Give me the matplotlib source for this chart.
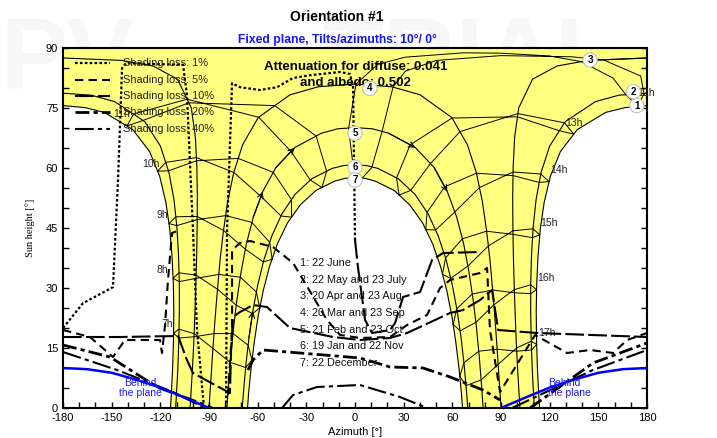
import matplotlib
matplotlib.use("Agg")
import matplotlib.pyplot as plt
from matplotlib.ticker import MultipleLocator

plt.rcParams['font.family'] = ['Liberation Sans', 'DejaVu Sans']
plt.rcParams['axes.unicode_minus'] = False

# --- sun paths, afternoon half (azimuth from south, west positive), morning is the mirror
C1_AZ = [180, 166.5, 154.5, 137.0, 126.6, 120.4, 116.6, 114.2, 112.8, 112.0, 111.7, 111.9, 112.4, 113.2, 113.75]
C1_ALT = [75.6, 75.1, 73.9, 69.6, 64.1, 57.9, 51.4, 44.7, 37.9, 31.0, 24.1, 17.3, 10.4, 3.6, 0]
C2_AZ = [180, 162.6, 148.2, 129.6, 120.0, 114.7, 111.6, 109.8, 108.8, 108.3, 108.3, 108.6, 109.2, 110.1, 110.6]
C2_ALT = [78.7, 78.2, 76.6, 71.6, 65.5, 58.9, 52.1, 45.2, 38.2, 31.2, 24.1, 17.1, 10.1, 3.1, 0]
C3_AZ = [180, 143.8, 124.5, 109.4, 100.9, 98.4, 97.5, 97.2, 97.3, 97.6, 98.1, 98.7, 99.4, 100.3, 101.4, 101.65]
C3_ALT = [87.5, 86.9, 85.5, 82.2, 75.0, 67.7, 60.4, 53.0, 45.7, 38.3, 31.0, 23.7, 16.4, 9.1, 1.8, 0]
C4_AZ = [0, 22.7, 40.1, 59.7, 69.3, 74.8, 78.5, 81.1, 83.2, 84.8, 86.3, 87.6, 88.8, 90]
C4_ALT = [81.0, 80.3, 78.3, 72.6, 65.8, 58.8, 51.6, 44.3, 37.0, 29.6, 22.2, 14.8, 7.4, 0]
C5_AZ = [0, 10.7, 20.7, 37.2, 48.8, 56.9, 62.7, 67.0, 70.2, 72.8, 74.9, 76.6, 78.0, 79.0]
C5_ALT = [70.1, 69.8, 68.7, 65.1, 60.1, 54.1, 47.7, 41.0, 34.1, 27.1, 20.0, 12.8, 5.6, 0]
C6_AZ = [0, 7.2, 14.1, 26.7, 37.0, 45.1, 51.3, 56.2, 60.0, 63.0, 65.4, 67.3, 68.8, 69.5]
C6_ALT = [60.8, 60.6, 59.9, 57.3, 53.4, 48.5, 43.0, 37.0, 30.7, 24.2, 17.5, 10.7, 3.8, 0]
C7_AZ = [0, 6.4, 12.6, 24.1, 33.7, 41.6, 47.8, 52.7, 56.6, 59.7, 62.1, 64.1, 65.6, 66.25]
C7_ALT = [57.6, 57.4, 56.7, 54.4, 50.8, 46.3, 41.1, 35.4, 29.3, 23.0, 16.5, 9.9, 3.7, 0]
DAYS = [(C1_AZ, C1_ALT), (C2_AZ, C2_ALT), (C3_AZ, C3_ALT), (C4_AZ, C4_ALT),
        (C5_AZ, C5_ALT), (C6_AZ, C6_ALT), (C7_AZ, C7_ALT)]

DAY_LABELS = ["1: 22 June", "2: 22 May and 23 July", "3: 20 Apr and 23 Aug",
              "4: 20 Mar and 23 Sep", "5: 21 Feb and 23 Oct", "6: 19 Jan and 22 Nov",
              "7: 22 December"]
NUM_AZ = [173.7, 171.6, 144.9, 9.2, 0, 0, 0]
NUM_ALT = [75.6, 79.1, 87.0, 79.9, 68.7, 60.2, 57.0]

# direction arrows: (day index, node of the tail, node of the head, morning side?)
ARROWS = [(4, 4, 3, True), (4, 6, 5, True), (4, 2, 3, False), (4, 4, 5, False),
          (2, 0, 1, False), (5, 10, 9, True)]

# --- hour lines (analemma loops, legal time), (azimuth, height)
H07 = [(-63.5, 12.0), (-67.4, 10.1), (-76.9, 11.4), (-87.6, 14.9), (-99.2, 18.6), (-108.5, 19.7), (-111.9, 18.7),
       (-108.6, 17.5), (-99.3, 17.8), (-86.9, 18.6), (-75.2, 18.6), (-65.9, 15.7), (-63.5, 12.0)]
H08 = [(-58.7, 25.0), (-63.2, 23.6), (-73.2, 25.7), (-84.8, 29.7), (-97.9, 33.2), (-108.5, 33.8), (-112.2, 32.4),
       (-108.3, 31.6), (-98.0, 32.4), (-84.0, 33.4), (-70.7, 32.7), (-60.8, 29.0), (-58.7, 25.0)]
H09 = [(-51.1, 37.2), (-56.5, 36.5), (-67.6, 39.7), (-81.1, 44.4), (-97.3, 47.9), (-110.5, 47.8), (-114.7, 46.1),
       (-109.9, 45.6), (-97.3, 47.1), (-79.7, 48.1), (-63.6, 46.4), (-52.6, 41.4), (-51.1, 37.2)]
H10 = [(-39.1, 47.7), (-45.6, 48.0), (-58.0, 52.9), (-74.7, 58.9), (-97.8, 62.6), (-116.7, 61.4), (-121.7, 59.2),
       (-115.0, 59.3), (-97.7, 61.8), (-71.9, 62.4), (-50.4, 58.9), (-39.2, 52.1), (-39.1, 47.7)]
H11 = [(-20.4, 55.1), (-27.6, 57.0), (-39.4, 64.1), (-59.4, 72.7), (-103.5, 77.2), (-136.5, 73.5), (-140.6, 70.5),
       (-130.6, 71.9), (-102.5, 76.3), (-49.5, 75.6), (-24.0, 68.0), (-17.5, 59.2), (-20.4, 55.1)]
H12 = [(4.0, 57.3), (-1.2, 60.7), (-4.0, 69.8), (0.6, 81.0), (14, 85.9), (30.8, 87.7), (67, 88.8), (90, 88.7),
       (120, 88.0), (139.4, 86.6), (159.0, 82.5), (167.0, 78.3), (174.4, 75.4),
       (178.1, 78.6), (176.1, 83.0), (153.0, 87.05), (133.7, 87.8), (90, 88.1), (50.1, 86.9), (31.0, 84.2),
       (23.4, 80.2), (16.6, 69.0), (10.3, 60.1), (4.0, 57.3)]
H13 = [(27.2, 53.25), (25.6, 57.5), (34.0, 65.8), (59.8, 72.5), (100.1, 72.8), (126.0, 69.3), (134.8, 68.5),
       (129.1, 71.3), (100.4, 73.6), (64.7, 69.1), (46.5, 61.1), (34.3, 54.4), (27.2, 53.25)]
H14 = [(43.6, 44.6), (44.4, 48.9), (55.3, 55.3), (74.85, 58.7), (97.4, 58.1), (113.5, 56.4), (119.6, 56.6),
       (114.5, 58.5), (97.4, 59.0), (76.7, 55.1), (61.5, 49.0), (49.6, 44.5), (43.6, 44.6)]
H15 = [(53.9, 33.4), (55.8, 37.5), (66.2, 42.3), (81.1, 44.2), (97.4, 43.4), (109.4, 42.6), (113.9, 43.3),
       (109.7, 44.8), (97.4, 44.3), (82.2, 40.5), (69.6, 35.5), (59.0, 32.4), (53.9, 33.4)]
H16 = [(60.5, 20.9), (62.7, 24.8), (72.3, 28.5), (84.8, 29.5), (98.3, 28.8), (108.3, 28.6), (111.9, 29.6),
       (108.3, 30.8), (98.2, 29.6), (85.6, 25.8), (74.5, 21.4), (64.8, 19.3), (60.5, 20.9)]
H17 = [(64.6, 7.9), (67.1, 11.3), (76.3, 14.2), (87.6, 14.7), (99.7, 14.2), (108.8, 14.5), (112.0, 15.9),
       (108.6, 16.7), (99.6, 15.0), (88.2, 10.9), (77.7, 7.0), (68.4, 5.6), (64.6, 7.9)]

HOUR_TXT = ['7h', '8h', '9h', '10h', '11h', '12h', '13h', '14h', '15h', '16h', '17h']
HOUR_TXT_AZ = [-112, -115.3, -115.3, -120.2, -138.7, 174, 129.5, 120.2, 114, 112.2, 112.8]
HOUR_TXT_ALT = [21, 34.5, 48.25, 61, 73.5, 78.8, 71.25, 59.4, 46.25, 32.5, 18.75]

# --- shading loss iso-lines (azimuth, height)
LOSS_1 = [
    ([-180.0, -167.7, -149.2, -146.1, -143.6, -141.2, -106.0, -103.6, -99.9, -97.4, -93.1],
     [20.0, 26.2, 30.2, 57.0, 85.0, 86.2, 85.8, 78.2, 44.5, 19.5, 0]),
    ([-79.5, -78.9, -75.8, -70.9, -58.6, -48.1, -38.2, -27.7, -9.2, -3.1, -1.2, 0],
     [0, 44.5, 81.2, 80.2, 79.5, 80.2, 82.5, 83.2, 84.0, 83.5, 80.2, 42.0]),
]
LOSS_5 = [
    ([-180.0, -163.4, -149.2, -141.8, -120.2, -119.0, -117.1, -115.3, -112.8, -107.9],
     [19.5, 17.75, 12.75, 17.0, 17.0, 13.75, 20.75, 32.0, 43.75, 44.5]),
    ([-78.3, -75.8, -75.8, -70.9, -64.7, -50.6, -38.2, -29.0, -17.3, -9.2, 3.1, 21.6, 32.1, 44.4, 52.4,
      58.6, 77.1, 81.4, 83.2, 89.4, 111.0, 130.7, 144.9, 159.1, 167.7, 180.0],
     [3.25, 19.5, 39.5, 41.25, 41.75, 40.25, 36.25, 30.0, 22.0, 18.25, 17.5, 17.75, 20.75, 23.25, 30.0,
      32.0, 33.75, 35.0, 19.5, 4.0, 18.25, 13.75, 14.5, 13.75, 17.0, 18.75]),
]
LOSS_10 = [
    ([-180, -144.9, -109.1, -103.6, -99.9, -86.3, -77.1, -76.4, -75.2, -70.9, -62.9, -54.3, -40.1, -13.6,
      3.1, 21.6, 32.1, 58.6, 66.6, 77.1, 84.5, 88.2, 112.2, 180],
     [17.75, 17.75, 18.0, 12.0, 8.75, 5.75, 3.75, 14.5, 22.75, 24.0, 25.75, 25.25, 20.0, 17.75,
      17.0, 17.5, 18.75, 23.75, 24.5, 27.0, 29.5, 19.5, 18.75, 17.75]),
    ([0, 1.8, 6.2, 10.5, 21.6, 24.7, 29.6, 40.1, 47.5, 54.3, 77.1],
     [42.0, 35.25, 22.0, 18.75, 19.5, 21.25, 27.75, 29.0, 37.0, 38.75, 39.0]),
]
LOSS_20 = [
    ([-180, -151.0, -122.1, -95.6, -88.2], [15.75, 12.75, 5.25, 1.25, 0]),
    ([-66.0, -62.9, -56.7, -33.9, 3.1, 21.6, 41.9, 58.6, 78.9, 89.4],
     [9.5, 12.0, 14.5, 13.75, 12.5, 10.25, 10.0, 7.75, 4.5, 2.0]),
    ([107.9, 146.7, 180], [0, 11.25, 16.25]),
]
LOSS_40 = [
    ([-180, -146.7, -112.2, -92.5], [14.0, 9.5, 4.0, 0]),
    ([-45.0, -38.2, -23.4, 3.1, 27.7, 44.4], [0, 3.25, 5.25, 5.75, 2.75, 0]),
    ([96.8, 146.7, 180], [0, 9.5, 14.5]),
]
LOSS_NAMES = ['Shading loss: 1%', 'Shading loss: 5%', 'Shading loss: 10%',
              'Shading loss: 20%', 'Shading loss: 40%']

# horizon of the tilted plane (behind the plane below it)
PLANE_AZ = [90, 105, 120, 135, 150, 165, 180]
PLANE_ALT = [0, 2.6, 5.1, 7.1, 8.8, 9.7, 10.0]

fig = plt.figure(figsize=(7.17, 4.38), dpi=100)
fig.text(0.0, 0.80, 'PV', fontsize=72, weight='bold', color='#f7f7f7', zorder=-1)
fig.text(0.45, 0.80, 'TRIAL', fontsize=72, weight='bold', color='#f7f7f7', zorder=-1)

ax = fig.add_axes([0.0879, 0.0685, 0.8145, 0.8219])
ax.set_facecolor('#ffff80')
ax.set_xlim(-180, 180)
ax.set_ylim(0, 90)

# white zones where the sun never goes
ax.fill([-a for a in C1_AZ] + [-180], C1_ALT + [0], color='white', lw=0, zorder=1)
ax.fill(C1_AZ + [180], C1_ALT + [0], color='white', lw=0, zorder=1)
ax.fill([-a for a in C7_AZ[::-1]] + C7_AZ[1:], C7_ALT[::-1] + C7_ALT[1:], color='white', lw=0, zorder=1)

for az, alt in DAYS:
    ax.plot(az, alt, color='black', lw=0.8, zorder=2)
    ax.plot([-a for a in az], alt, color='black', lw=0.8, zorder=2)

for d, i0, i1, morning in ARROWS:
    az, alt = DAYS[d]
    sgn = -1 if morning else 1
    ax.annotate('', xy=(sgn * az[i1], alt[i1]), xytext=(sgn * az[i0], alt[i0]),
                arrowprops=dict(arrowstyle='->', color='black', lw=0.8, mutation_scale=10,
                                shrinkA=0, shrinkB=0), zorder=2)

for loop in [H07, H08, H09, H10, H11, H12, H13, H14, H15, H16, H17]:
    ax.plot([p[0] for p in loop], [p[1] for p in loop], color='black', lw=0.7, zorder=2)

for t, a, h in zip(HOUR_TXT, HOUR_TXT_AZ, HOUR_TXT_ALT):
    ax.text(a, h, t, fontsize=7.5, color='#222222', ha='right' if a < 0 else 'left',
            va='center', zorder=3)

styles = [dict(ls=(0, (1.2, 1.0)), lw=1.6), dict(ls=(0, (4, 2.5)), lw=1.5),
          dict(ls=(0, (9, 2)), lw=1.5), dict(ls=(0, (5, 1.5, 1.5, 1.5)), lw=2.0),
          dict(ls=(0, (9, 2, 2, 2)), lw=1.5)]
for segs, st in zip([LOSS_1, LOSS_5, LOSS_10, LOSS_20, LOSS_40], styles):
    for az, alt in segs:
        ax.plot(az, alt, color='black', zorder=4, **st)

ax.plot(PLANE_AZ, PLANE_ALT, color='#0000ff', lw=1.8, zorder=4)
ax.plot([-a for a in PLANE_AZ], PLANE_ALT, color='#0000ff', lw=1.8, zorder=4)
ax.text(-119, 5, 'Behind\nthe plane', color='#1a1aff', fontsize=7.5, ha='right', va='center',
        multialignment='center', zorder=5, linespacing=1.1)
ax.text(119, 5, 'Behind\nthe plane', color='#1a1aff', fontsize=7.5, ha='left', va='center',
        multialignment='left', zorder=5, linespacing=1.1)

# legend of the iso-shading lines
for i, (name, st) in enumerate(zip(LOSS_NAMES, styles)):
    y = 0.958 - i * 0.0455
    ax.plot([0.0205, 0.0805], [y, y], transform=ax.transAxes, color='black', zorder=6, **st)
    ax.text(0.103, y, name, transform=ax.transAxes, fontsize=7.9, color='#222222',
            va='center', zorder=6)

ax.text(0.5, 85.25, 'Attenuation for diffuse: 0.041', fontsize=9.5, weight='bold',
        ha='center', va='center', zorder=6)
ax.text(0.5, 81.25, 'and albedo: 0.502', fontsize=9.5, weight='bold',
        ha='center', va='center', zorder=6)

for i, txt in enumerate(DAY_LABELS):
    ax.text(-33.9, 36.2 - i * 4.16, txt, fontsize=7.8, color='#111111', va='center', zorder=6)

for i, (a, h) in enumerate(zip(NUM_AZ, NUM_ALT)):
    ax.text(a, h, str(i + 1), fontsize=7, weight='bold', ha='center', va='center', zorder=7,
            bbox=dict(boxstyle='circle,pad=0.22', fc='white', ec='#c0c0c0', lw=0.8))

ax.xaxis.set_major_locator(MultipleLocator(30))
ax.xaxis.set_minor_locator(MultipleLocator(10))
ax.yaxis.set_major_locator(MultipleLocator(15))
ax.yaxis.set_minor_locator(MultipleLocator(5))
ax.tick_params(which='both', direction='in', right=True, top=False, length=4, width=1, labelsize=8)
ax.tick_params(axis='y', which='both', labelright=False)
for s in ax.spines.values():
    s.set_linewidth(1.5)

ax.set_xlabel('Azimuth [°]', fontsize=8, labelpad=3)
ax.set_ylabel('Sun height [°]', fontsize=7.5, family='Liberation Serif', labelpad=8)

fig.text(0.47, 0.961, 'Orientation #1', fontsize=10, weight='bold', ha='center', va='center')
fig.text(0.47, 0.909, 'Fixed plane, Tilts/azimuths: 10°/ 0°', fontsize=8.7, weight='bold',
         color='#1414ff', ha='center', va='center')

fig.savefig('out.png', dpi=100)
